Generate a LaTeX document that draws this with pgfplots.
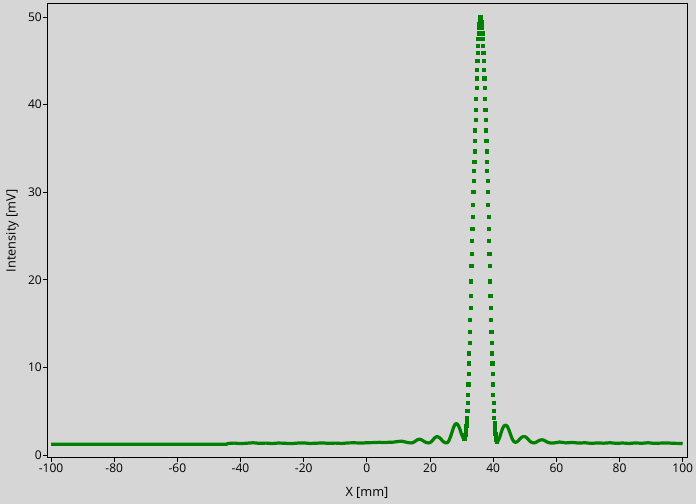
\documentclass[border=0pt]{standalone}
\usepackage{pgfplots}
\pgfplotsset{compat=1.18}
\usepackage{fontspec}
\setmainfont{Open Sans}
\definecolor{bg}{RGB}{214,214,214}
\definecolor{dgreen}{RGB}{0,128,0}
\begin{document}
\begin{tikzpicture}
\fill[bg] (0,0) rectangle (696bp,504bp);
\useasboundingbox (0,0) rectangle (696bp,504bp);
\begin{axis}[
  at={(47bp,46bp)}, anchor=south west,
  scale only axis, width=640bp, height=454bp,
  xmin=-101.27, xmax=101.36, ymin=-0.34, ymax=51.48,
  xtick={-100,-80,...,100}, ytick={0,10,...,50},
  tick align=outside, tick pos=left,
  major tick length=4bp,
  tick style={black, line width=0.8bp},
  axis line style={black, line width=1bp},
  font=\fontsize{12bp}{14bp}\selectfont,
  /pgf/number format/assume math mode=true,
  xticklabel style={inner sep=2bp},
  yticklabel style={inner sep=1bp},
  xlabel={X [mm]}, ylabel={Intensity [mV]},
  xlabel style={font=\fontsize{12.8bp}{15bp}\selectfont, at={(axis description cs:0.5,0)}, anchor=center, yshift=-35bp},
  ylabel style={font=\fontsize{12.8bp}{15bp}\selectfont, at={(axis description cs:0,0.5)}, anchor=center, yshift=34.5bp},
]
\addplot[dgreen, line width=3.2bp, line join=round] coordinates {
(-100,1.22)(-44.5,1.22)(-44,1.32)(-42,1.36)(-40,1.30)(-38,1.35)(-36,1.40)(-34,1.33)(-32,1.36)(-30,1.31)(-28,1.37)(-26,1.34)(-24,1.30)(-22,1.36)(-20,1.38)(-18,1.32)(-16,1.35)(-14,1.38)(-12,1.33)(-10,1.36)(-8,1.32)(-6,1.38)(-4,1.40)(-2,1.36)(0,1.40)(2,1.42)(4,1.45)(6,1.42)(7,1.46)(8,1.45)(9,1.50)(10,1.55)(11,1.58)(12,1.50)(13,1.42)(14,1.38)(14.5,1.40)(15,1.50)(15.5,1.62)(16,1.74)(16.5,1.80)(17,1.78)(17.5,1.70)(18,1.58)(18.5,1.47)(19,1.40)(19.5,1.38)(20,1.42)(20.5,1.55)(21,1.76)(21.5,1.96)(22,2.08)(22.5,2.08)(23,1.98)(23.5,1.80)(24,1.60)(24.5,1.45)(25,1.38)(25.5,1.40)(26,1.65)(26.5,2.10)(27,2.65)(27.5,3.20)(28,3.55)(28.5,3.58)(29,3.35)(29.5,2.90)(30,2.35)(30.5,1.95)(30.85,1.82)(31.05,1.95)
};
\addplot[dgreen, line width=3.2bp, line join=round] coordinates {
(41.15,1.58)(41.25,1.50)(41.5,1.58)(42,1.95)(42.5,2.55)(43,3.05)(43.5,3.35)(44,3.42)(44.5,3.25)(45,2.85)(45.5,2.35)(46,1.85)(46.5,1.55)(47,1.45)(47.5,1.50)(48,1.65)(48.5,1.85)(49,2.02)(49.5,2.10)(50,2.10)(50.5,2.00)(51,1.82)(51.5,1.62)(52,1.48)(52.5,1.40)(53,1.38)(53.5,1.44)(54,1.55)(54.5,1.65)(55,1.72)(55.5,1.74)(56,1.70)(56.5,1.60)(57,1.50)(57.5,1.42)(58,1.38)(59,1.37)(60,1.42)(61,1.48)(62,1.44)(63,1.38)(65,1.44)(67,1.36)(69,1.40)(71,1.33)(73,1.38)(75,1.35)(77,1.40)(79,1.33)(81,1.37)(83,1.32)(85,1.38)(87,1.34)(89,1.40)(91,1.33)(93,1.36)(95,1.38)(97,1.34)(99,1.32)(100,1.30)
};
\addplot[dgreen, only marks, mark=square*, mark size=1.6bp, mark options={draw=dgreen, fill=dgreen, line width=0pt}] coordinates {
(30.85,1.82)(30.95,1.85)(31.05,1.95)(31.15,2.10)(31.25,2.30)(31.35,2.55)(31.45,2.90)(31.55,3.30)(31.65,3.75)(31.75,4.23)(31.85,5.05)(31.95,5.90)(32.05,6.87)(32.15,8.05)(32.25,9.24)(32.35,10.45)(32.45,11.58)(32.55,12.75)(32.65,14.00)(32.75,15.41)(32.85,16.78)(32.95,18.17)(33.05,19.80)(33.15,21.54)(33.25,22.99)(33.35,24.44)(33.45,25.77)(33.55,27.17)(33.65,28.56)(33.75,30.00)(33.85,31.28)(33.95,32.38)(34.05,33.48)(34.15,34.64)(34.25,35.84)(34.35,37.03)(34.45,38.24)(34.55,39.42)(34.65,40.64)(34.75,41.88)(34.85,42.97)(34.95,43.95)(35.05,44.94)(35.15,45.86)(35.25,46.70)(35.35,47.44)(35.45,48.11)(35.55,48.70)(35.65,49.14)(35.75,49.47)(35.85,49.78)(35.95,49.94)(36.05,50.00)
(36.15,49.94)(36.25,49.78)(36.35,49.47)(36.45,49.14)(36.55,48.70)(36.65,48.11)(36.75,47.44)(36.85,46.70)(36.95,45.86)(37.05,44.94)(37.15,43.95)(37.25,42.97)(37.35,41.88)(37.45,40.64)(37.55,39.42)(37.65,38.24)(37.75,37.03)(37.85,35.84)(37.95,34.64)(38.05,33.48)(38.15,32.38)(38.25,31.28)(38.35,30.00)(38.45,28.56)(38.55,27.17)(38.65,25.77)(38.75,24.44)(38.85,22.99)(38.95,21.54)(39.05,19.80)(39.15,18.17)(39.25,16.78)(39.35,15.41)(39.45,14.00)(39.55,12.75)(39.65,11.58)(39.75,10.45)(39.85,9.24)(39.95,8.05)(40.05,6.87)(40.15,5.90)(40.25,5.05)(40.35,4.23)(40.45,3.68)(40.55,3.16)(40.65,2.77)(40.75,2.39)(40.85,2.13)(40.95,1.88)(41.05,1.71)(41.15,1.58)(41.25,1.50)
};
\end{axis}
\end{tikzpicture}
\end{document}
